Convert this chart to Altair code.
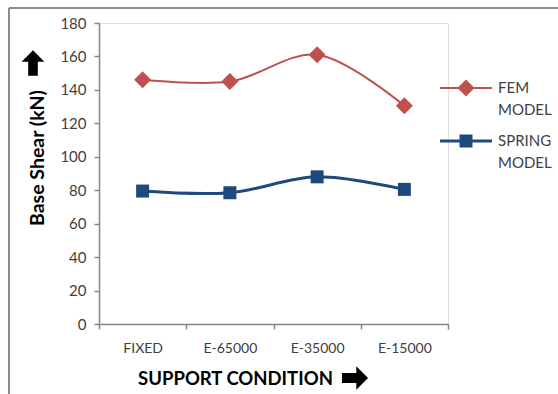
import altair as alt
import pandas as pd

# Base shear per support condition for the two models
categories = ["FIXED", "E-65000", "E-35000", "E-15000"]
fem_model = [146, 145, 161, 130.5]
spring_model = [79.5, 78.5, 88, 80.5]

series_names = ["FEM MODEL", "SPRING MODEL"]
legend_labels = ["FEM\nMODEL", "SPRING\nMODEL"]
series_colors = ["#C0504D", "#1F497D"]

rows = []
for name, values in zip(series_names, [fem_model, spring_model]):
    for cat, v in zip(categories, values):
        rows.append({"condition": cat, "series": name, "shear": v})
df = pd.DataFrame(rows)
legend_df = pd.DataFrame({"series": series_names, "label": legend_labels})

FONT = "Lato, DejaVu Sans, sans-serif"
AXIS_GRAY = "#868686"
ARROW_PATH = "M-1,-0.38L0.1,-0.38L0.1,-0.9L1,0L0.1,0.9L0.1,0.38L-1,0.38Z"

color = alt.Color("series:N", scale=alt.Scale(domain=series_names, range=series_colors), legend=None)
shape = alt.Shape("series:N", scale=alt.Scale(domain=series_names, range=["diamond", "square"]), legend=None)
size = alt.Size("series:N", scale=alt.Scale(domain=series_names, range=[289, 169]), legend=None)
stroke_w = alt.StrokeWidth("series:N", scale=alt.Scale(domain=series_names, range=[2, 3]), legend=None)

x_enc = alt.X(
    "condition:N",
    sort=categories,
    scale=alt.Scale(type="band", paddingInner=0, paddingOuter=0),
    axis=alt.Axis(
        title="SUPPORT CONDITION",
        titleFont=FONT, titleFontSize=18.5, titleFontWeight="bold", titleColor="#000000",
        titleX=136, titleY=54, titleBaseline="middle", titleAlign="center",
        labelFont=FONT, labelFontSize=14, labelColor="#404040", labelAngle=0, labelPadding=12,
        tickBand="extent", tickSize=5, tickColor=AXIS_GRAY, domainColor=AXIS_GRAY,
        domainWidth=1.5, tickWidth=1.5, grid=False,
    ),
)
y_enc = alt.Y(
    "shear:Q",
    scale=alt.Scale(domain=[0, 180], nice=False),
    axis=alt.Axis(
        title="Base Shear (kN)",
        titleFont=FONT, titleFontSize=19.5, titleFontWeight="bold", titleColor="#000000",
        titleX=-62, titleY=134.5, titleAngle=270, titleBaseline="middle", titleAlign="center",
        labelFont=FONT, labelFontSize=15, labelColor="#404040", labelPadding=8,
        values=list(range(0, 181, 20)),
        tickSize=5, tickColor=AXIS_GRAY, domainColor=AXIS_GRAY,
        domainWidth=1.5, tickWidth=1.5, grid=False,
    ),
)

base = alt.Chart(df)
lines = base.mark_line(interpolate="catmull-rom").encode(
    x=x_enc, y=y_enc, color=color, strokeWidth=stroke_w, detail="series:N"
)
points = base.mark_point(filled=True, opacity=1).encode(
    x=x_enc, y=y_enc, color=color, shape=shape, size=size
)

# Hand-built legend to the right of the plot, one entry per series
legend_layers = []
for name, ypos in zip(series_names, [65, 118]):
    entry = alt.Chart(legend_df).transform_filter(alt.datum.series == name)
    legend_layers.append(entry.mark_rule().encode(
        x=alt.value(341), x2=alt.value(393), y=alt.value(ypos), color=color, strokeWidth=stroke_w
    ))
    legend_layers.append(entry.mark_point(filled=True, opacity=1).encode(
        x=alt.value(367), y=alt.value(ypos), color=color, shape=shape, size=size
    ))
    legend_layers.append(entry.mark_text(
        align="left", baseline="alphabetic", dy=5, lineBreak="\n", lineHeight=22,
        font=FONT, fontSize=15, color="#404040"
    ).encode(x=alt.value(399), y=alt.value(ypos), text="label:N"))

# Block arrows beside the axis titles
arrow_up = alt.Chart(legend_df.head(1)).mark_point(
    shape=ARROW_PATH, filled=True, opacity=1, color="#000000", size=640, angle=270
).encode(x=alt.value(-66), y=alt.value(40))
arrow_right = alt.Chart(legend_df.head(1)).mark_point(
    shape=ARROW_PATH, filled=True, opacity=1, color="#000000", size=680
).encode(x=alt.value(256), y=alt.value(355))

# Outer frame lines
frame_top = alt.Chart(legend_df.head(1)).mark_rule(color="#8C8C8C", strokeWidth=2).encode(
    x=alt.value(-90), x2=alt.value(470), y=alt.value(-15)
)
frame_left = alt.Chart(legend_df.head(1)).mark_rule(color="#8C8C8C", strokeWidth=2).encode(
    x=alt.value(-90), y=alt.value(-15), y2=alt.value(380)
)

chart = alt.layer(
    frame_top, frame_left, lines, points, *legend_layers, arrow_up, arrow_right
).properties(
    width=349, height=301,
    autosize=alt.AutoSizeParams(type="none"),
    padding={"left": 99, "top": 23, "right": 110, "bottom": 70},
).configure_view(stroke=None).configure(background="white")

chart.save("out.html", embed_options={"renderer": "svg", "actions": False})
